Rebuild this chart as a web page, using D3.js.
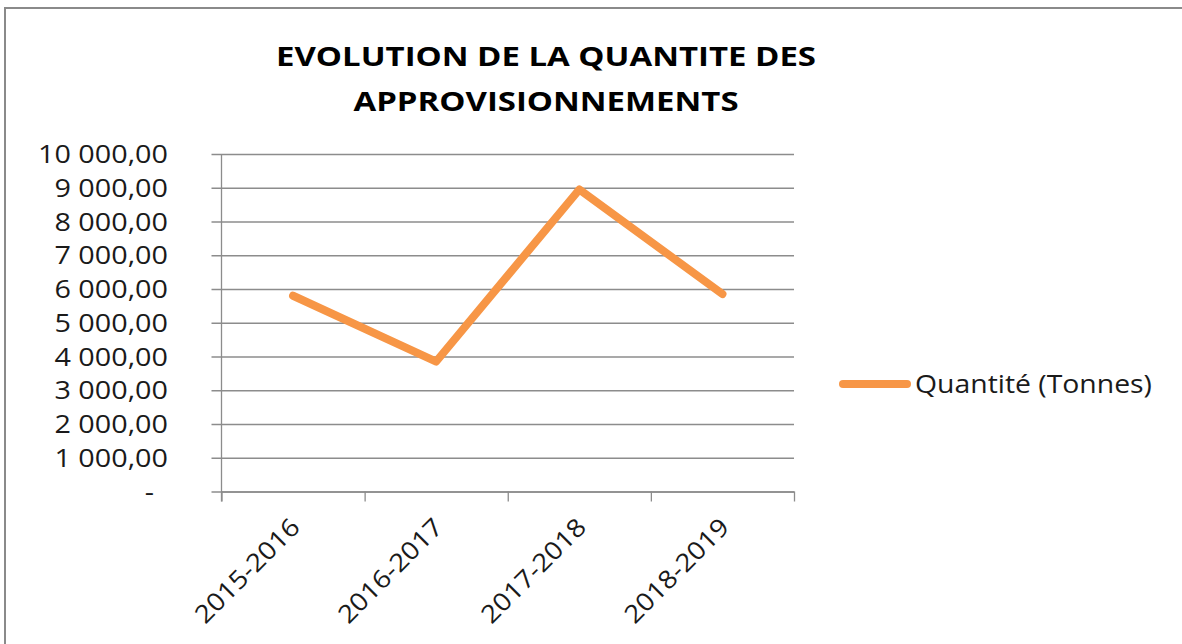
<!DOCTYPE html>
<html><head><meta charset="utf-8">
<script src="https://cdn.jsdelivr.net/npm/d3@7"></script>
<style>
html,body{margin:0;padding:0;background:#fff;}
svg{display:block;}
</style>
</head><body>
<div id="chart"></div>
<script>
const categories = ["2015-2016", "2016-2017", "2017-2018", "2018-2019"];
const values = [5800, 3850, 8950, 5850];
const yTicks = [0, 1000, 2000, 3000, 4000, 5000, 6000, 7000, 8000, 9000, 10000];
const titleLines = ["EVOLUTION DE LA QUANTITE DES", "APPROVISIONNEMENTS"];
const seriesName = "Quantité (Tonnes)";

const W = 1182, H = 644;
const svg = d3.select("#chart").append("svg").attr("width", W).attr("height", H);

// stretch a text selection horizontally so that the reference item gets the target width
function stretch(sel, refWidth, target) {
  const f = target / refWidth;
  sel.each(function () {
    const w = this.getComputedTextLength();
    d3.select(this).attr("textLength", w * f).attr("lengthAdjust", "spacingAndGlyphs");
  });
}

// frame
svg.append("rect").attr("x", 5).attr("y", 8).attr("width", 1300).attr("height", 800)
  .attr("fill", "#fff").attr("stroke", "#8a8a8a").attr("stroke-width", 2);

const plot = {left: 221.5, right: 794, top: 154, bottom: 491.5};
const x = d3.scaleBand().domain(categories).range([plot.left, plot.right]).padding(0);
const y = d3.scaleLinear().domain([0, 10000]).range([plot.bottom, plot.top]);

const loc = d3.formatLocale({decimal: ",", thousands: "\u00a0", grouping: [3]});
const fmt = loc.format(",.2f");

// gridlines (with outer tick)
const yAxis = d3.axisLeft(y).tickValues(yTicks).tickSize(-(plot.right - plot.left)).tickSizeOuter(0).tickFormat("");
const gy = svg.append("g").attr("transform", `translate(${plot.left},0)`).call(yAxis);
gy.select(".domain").remove();
gy.selectAll(".tick line").attr("x1", -10).attr("stroke", "#8c8c8c").attr("stroke-width", 1.3);

// y labels
const yl = svg.append("g").selectAll("text").data(yTicks).join("text")
  .attr("x", d => d === 0 ? 154 : 168)
  .attr("y", d => y(d))
  .attr("dy", "0.36em")
  .attr("text-anchor", "end")
  .attr("font-family", "Open Sans")
  .attr("font-size", 25)
  .attr("fill", "#1a1a1a")
  .text(d => d === 0 ? "-" : fmt(d));
const yRef = yl.filter(d => d === 10000).node().getComputedTextLength();
stretch(yl, yRef, 130);

// vertical axis line
svg.append("line").attr("x1", plot.left).attr("x2", plot.left).attr("y1", plot.top).attr("y2", plot.bottom + 10)
  .attr("stroke", "#8c8c8c").attr("stroke-width", 1.3);

// x axis
const xb = d3.scaleLinear().domain([0, categories.length]).range([plot.left, plot.right]);
const xAxis = d3.axisBottom(xb).ticks(categories.length).tickSize(10).tickSizeOuter(0).tickFormat("");
const gx = svg.append("g").attr("transform", `translate(0,${plot.bottom})`).call(xAxis);
gx.select(".domain").attr("stroke", "#8c8c8c").attr("stroke-width", 1.3);
gx.selectAll(".tick line").attr("stroke", "#8c8c8c").attr("stroke-width", 1.3);

// x labels
const xl = svg.append("g").selectAll("text").data(categories).join("text")
  .attr("transform", d => `translate(${x(d) + x.bandwidth() / 2 + 2},${plot.bottom + 31}) rotate(-45)`)
  .attr("text-anchor", "end")
  .attr("dy", "0.36em")
  .attr("font-family", "Open Sans")
  .attr("font-size", 25)
  .attr("fill", "#1a1a1a")
  .text(d => d);
stretch(xl, xl.node().getComputedTextLength(), 136);

// line
const line = d3.line().x((d, i) => x(categories[i]) + x.bandwidth() / 2).y(d => y(d));
svg.append("path").datum(values).attr("d", line)
  .attr("fill", "none").attr("stroke", "#F79646").attr("stroke-width", 8)
  .attr("stroke-linejoin", "round").attr("stroke-linecap", "round");

// legend
svg.append("line").attr("x1", 843).attr("x2", 907).attr("y1", 384).attr("y2", 384)
  .attr("stroke", "#F79646").attr("stroke-width", 8).attr("stroke-linecap", "round");
const lt = svg.append("text").attr("x", 915).attr("y", 384).attr("dy", "0.36em")
  .attr("font-family", "Open Sans").attr("font-size", 26).attr("fill", "#1a1a1a")
  .text(seriesName);
stretch(lt, lt.node().getComputedTextLength(), 237);

// title
const tt = svg.append("g").selectAll("text").data(titleLines).join("text")
  .attr("x", 546)
  .attr("y", (d, i) => 66 + i * 45)
  .attr("text-anchor", "middle")
  .attr("font-family", "Open Sans")
  .attr("font-weight", "bold")
  .attr("font-size", 27)
  .attr("fill", "#000")
  .text(d => d);
stretch(tt, tt.node().getComputedTextLength(), 540);
</script>
</body></html>
